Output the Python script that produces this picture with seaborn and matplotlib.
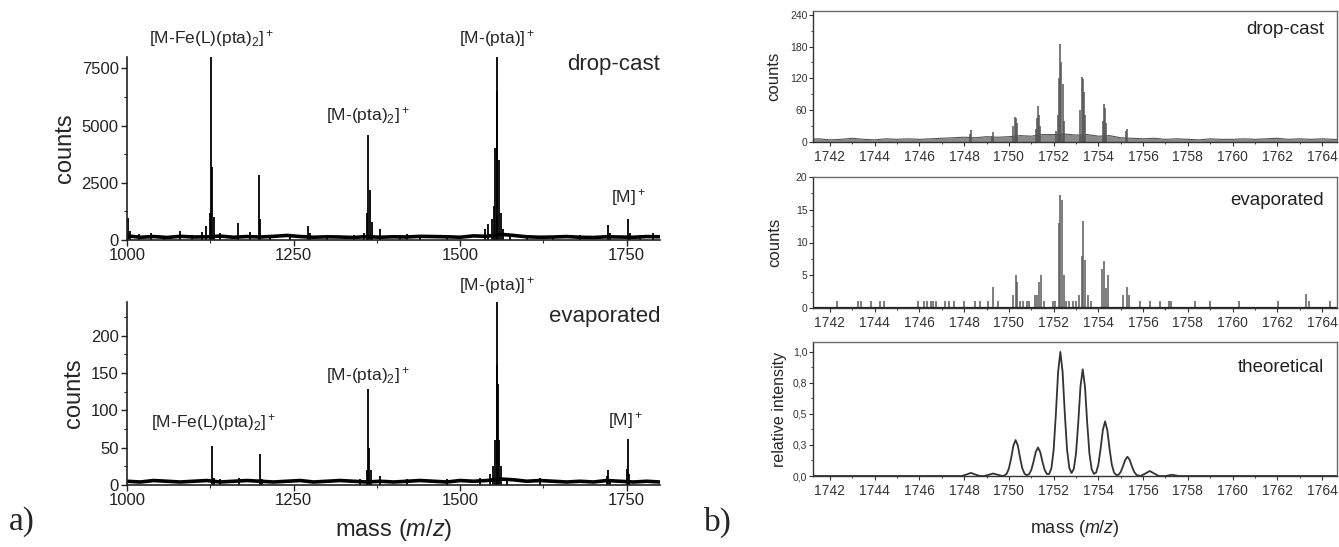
import numpy as np
import matplotlib
matplotlib.use("Agg")
import matplotlib.pyplot as plt
from matplotlib.ticker import MultipleLocator, FixedLocator
import seaborn as sns

sns.set_style("ticks")
plt.rcParams["font.family"] = ["Liberation Sans", "DejaVu Sans"]
plt.rcParams["mathtext.fontset"] = "custom"
plt.rcParams["mathtext.rm"] = "Liberation Sans"
plt.rcParams["mathtext.it"] = "Liberation Sans:italic"

# ---- panel a) wide mass range ----
wide_noise_x = np.arange(1000, 1801, 20)
dc_wide_noise = [180, 120, 150, 110, 160, 130, 140, 170, 120, 150,
                 130, 160, 200, 150, 120, 140, 130, 110, 150, 120,
                 140, 130, 160, 150, 140, 120, 180, 160, 250, 200,
                 140, 120, 130, 150, 120, 110, 140, 130, 120, 150,
                 140]
dc_wide_x = [1002, 1005, 1018, 1036, 1055, 1080, 1098, 1112, 1118, 1124,
             1126, 1128, 1131, 1140, 1166, 1184, 1198, 1200, 1215, 1245,
             1272, 1275, 1300, 1340, 1355, 1360, 1362, 1364, 1367, 1380,
             1410, 1420, 1440, 1480, 1538, 1542, 1548, 1551, 1553, 1555,
             1556, 1558, 1561, 1565, 1575, 1600, 1640, 1680, 1722, 1725,
             1752, 1755, 1770, 1790]
dc_wide_y = [950, 400, 250, 300, 150, 380, 200, 350, 600, 1200,
             8000, 3200, 1000, 300, 750, 350, 2850, 900, 200, 150,
             600, 300, 150, 200, 300, 1200, 4600, 2200, 800, 500,
             200, 250, 200, 150, 500, 700, 900, 1500, 4000, 8000,
             6500, 3500, 1200, 500, 250, 150, 150, 200, 650, 300,
             920, 300, 200, 300]

ev_wide_noise = [5, 4, 6, 5, 4, 5, 6, 4, 5, 6,
                 5, 4, 5, 6, 4, 5, 6, 5, 4, 5,
                 4, 5, 6, 5, 4, 6, 5, 6, 8, 7,
                 5, 6, 5, 4, 5, 4, 6, 5, 4, 5,
                 4]
ev_wide_x = [1127, 1130, 1140, 1168, 1199, 1202, 1350, 1360, 1362, 1363,
             1366, 1380, 1420, 1480, 1530, 1545, 1550, 1553, 1555, 1556,
             1557, 1559, 1562, 1570, 1620, 1720, 1722, 1725, 1750, 1752,
             1754]
ev_wide_y = [52, 10, 8, 10, 42, 8, 8, 20, 128, 50,
             20, 12, 8, 8, 10, 15, 25, 60, 245, 160,
             135, 60, 25, 10, 10, 12, 20, 8, 22, 62,
             15]

# ---- panel b) molecular ion region ----
zoom_noise_x = np.arange(1741.0, 1765.01, 0.5)
dc_zoom_noise = [5, 6, 4, 5, 7, 5, 4, 6, 5, 6,
                 5, 6, 7, 8, 9, 8, 10, 9, 10, 12,
                 11, 14, 14, 15, 13, 14, 11, 12, 8, 7,
                 6, 7, 5, 6, 5, 4, 6, 5, 5, 6,
                 5, 6, 7, 5, 6, 5, 6, 5, 5]
dc_zoom_x = [1748.25, 1748.3, 1749.25, 1749.3, 1750.2, 1750.25, 1750.3, 1750.35,
             1751.2, 1751.25, 1751.3, 1751.35, 1751.4, 1752.1, 1752.2, 1752.25,
             1752.3, 1752.35, 1752.4, 1752.45, 1753.2, 1753.25, 1753.3, 1753.35,
             1753.4, 1754.2, 1754.25, 1754.3, 1754.35, 1755.25, 1755.3]
dc_zoom_y = [15, 22, 12, 18, 30, 48, 46, 35,
             25, 45, 68, 50, 30, 20, 50, 120,
             185, 150, 110, 40, 60, 122, 118, 95,
             50, 40, 72, 65, 35, 20, 25]

ev_zoom_x = [1741.2, 1742.3, 1743.25, 1743.4, 1743.85, 1744.25, 1744.4, 1745.95,
             1746.2, 1746.35, 1746.5, 1746.6, 1746.75, 1747.15, 1747.3, 1747.55,
             1748.0, 1748.5, 1748.7, 1749.05, 1749.3, 1749.5, 1750.2, 1750.3,
             1750.38, 1750.48, 1750.65, 1750.8, 1750.92, 1751.15, 1751.25, 1751.35,
             1751.42, 1751.55, 1751.95, 1752.05, 1752.22, 1752.3, 1752.37, 1752.45,
             1752.55, 1752.7, 1752.85, 1753.0, 1753.15, 1753.25, 1753.32, 1753.42,
             1753.52, 1753.65, 1754.15, 1754.25, 1754.32, 1754.42, 1755.1, 1755.28,
             1755.38, 1755.85, 1756.3, 1756.75, 1757.15, 1757.25, 1758.3, 1759.0,
             1760.3, 1762.05, 1763.3, 1763.42, 1764.35]
ev_zoom_y = [1, 1, 1, 1, 1, 1, 1, 1,
             1, 1, 1, 1, 1, 1, 1, 1,
             1, 1, 1, 1, 3.2, 1, 2, 5,
             4, 1, 1, 1, 1, 2, 2, 4,
             5, 1, 1, 1, 13, 17.3, 16.5, 5,
             1, 1, 1, 1, 2, 8, 13.3, 7.3,
             2, 1, 6, 7.2, 3, 5, 2, 3.2,
             2, 1, 1, 1, 1, 1, 1, 1,
             1, 1, 2.2, 1, 1]

theo_x = [1741.2, 1747.9, 1748.1, 1748.3, 1748.5, 1748.7, 1748.9, 1749.1, 1749.3, 1749.5,
          1749.7, 1749.8, 1749.9, 1750.0, 1750.1, 1750.2, 1750.3, 1750.4, 1750.5, 1750.6,
          1750.7, 1750.8, 1750.9, 1751.0, 1751.1, 1751.2, 1751.3, 1751.4, 1751.5, 1751.6,
          1751.7, 1751.8, 1751.9, 1752.0, 1752.1, 1752.2, 1752.3, 1752.4, 1752.5, 1752.6,
          1752.7, 1752.8, 1752.9, 1753.0, 1753.1, 1753.2, 1753.3, 1753.4, 1753.5, 1753.6,
          1753.7, 1753.8, 1753.9, 1754.0, 1754.1, 1754.2, 1754.3, 1754.4, 1754.5, 1754.6,
          1754.7, 1754.8, 1754.9, 1755.0, 1755.1, 1755.2, 1755.3, 1755.4, 1755.5, 1755.6,
          1755.7, 1755.8, 1755.9, 1756.1, 1756.3, 1756.5, 1756.7, 1757.0, 1757.3, 1757.6,
          1764.7]
theo_y = [0, 0, 0.012, 0.025, 0.012, 0, 0, 0.01, 0.02, 0.01,
          0, 0.004, 0.018, 0.061, 0.145, 0.244, 0.29, 0.244, 0.145, 0.061,
          0.018, 0.007, 0.014, 0.048, 0.115, 0.193, 0.23, 0.193, 0.115, 0.048,
          0.016, 0.016, 0.063, 0.21, 0.50, 0.84, 1.0, 0.84, 0.50, 0.212,
          0.065, 0.024, 0.056, 0.181, 0.43, 0.722, 0.86, 0.722, 0.43, 0.181,
          0.055, 0.017, 0.028, 0.092, 0.22, 0.37, 0.44, 0.37, 0.22, 0.092,
          0.028, 0.008, 0.010, 0.033, 0.078, 0.130, 0.155, 0.130, 0.078, 0.033,
          0.010, 0.003, 0.001, 0.02, 0.04, 0.02, 0, 0, 0.01, 0,
          0]

theo_ticks = [0, 0.25, 0.5, 0.75, 1.0]
theo_ticklabels = ["0,0", "0,3", "0,5", "0,8", "1,0"]


def px_axes(fig, x0, y0, x1, y1):
    W, H = 1339, 547
    return fig.add_axes([x0 / W, 1 - y1 / H, (x1 - x0) / W, (y1 - y0) / H])


def style_wide(ax, ymax, ymajor, yminor):
    ax.set_xlim(1000, 1800)
    ax.set_ylim(0, ymax)
    sns.despine(ax=ax)
    for s in ("left", "bottom"):
        ax.spines[s].set_linewidth(1.2)
        ax.spines[s].set_color("#222222")
    ax.xaxis.set_major_locator(FixedLocator([1000, 1250, 1500, 1750]))
    ax.xaxis.set_minor_locator(MultipleLocator(125))
    ax.yaxis.set_major_locator(MultipleLocator(ymajor))
    ax.yaxis.set_minor_locator(MultipleLocator(yminor))
    ax.tick_params(axis="both", which="major", direction="out", length=4,
                   width=1, labelsize=12, colors="#222222", pad=2)
    ax.tick_params(axis="both", which="minor", direction="out", length=2, width=0.8)
    ax.set_ylabel("counts", fontsize=17, labelpad=4)


def draw_wide(ax, noise, px, py):
    sns.lineplot(x=wide_noise_x, y=noise, ax=ax, color="black", lw=2.6)
    ax.vlines(px, 0, py, color="black", lw=1.3)


def style_zoom(ax, ymax, ymajor, yminor):
    ax.set_xlim(1741.24, 1764.67)
    ax.set_ylim(0, ymax)
    for s in ax.spines.values():
        s.set_color("#6a6a6a")
        s.set_linewidth(1.0)
    ax.spines["left"].set_color("#333333")
    ax.spines["bottom"].set_color("#333333")
    ax.xaxis.set_major_locator(MultipleLocator(2))
    ax.xaxis.set_minor_locator(MultipleLocator(1))
    ax.yaxis.set_major_locator(MultipleLocator(ymajor))
    ax.yaxis.set_minor_locator(MultipleLocator(yminor))
    ax.tick_params(axis="x", which="major", direction="out", length=3, width=0.8,
                   labelsize=10, colors="#333333", pad=3)
    ax.tick_params(axis="y", which="major", direction="out", length=3, width=0.8,
                   labelsize=7.5, colors="#333333", pad=1)
    ax.tick_params(axis="both", which="minor", direction="out", length=1.5, width=0.6)
    ax.tick_params(top=False, right=False, which="both")


fig = plt.figure(figsize=(13.39, 5.47), dpi=100)

# a) top: drop-cast
ax1 = px_axes(fig, 127, 57, 660, 240)
draw_wide(ax1, dc_wide_noise, dc_wide_x, dc_wide_y)
style_wide(ax1, 8000, 2500, 1250)
ax1.set_xlabel("")
lab = dict(ha="center", va="center", fontsize=12.5, transform=ax1.get_xaxis_transform())
ax1.text(1127, 1.10, r"[M-Fe(L)(pta)$_2$]$^+$", **lab)
ax1.text(1555, 1.10, r"[M-(pta)]$^+$", **lab)
ax1.text(1362, 0.68, r"[M-(pta)$_2$]$^+$", **lab)
ax1.text(1752, 0.23, r"[M]$^+$", **lab)
ax1.text(1.0, 0.96, "drop-cast", ha="right", va="center", fontsize=16,
         transform=ax1.transAxes)

# a) bottom: evaporated
ax2 = px_axes(fig, 127, 302, 660, 485)
draw_wide(ax2, ev_wide_noise, ev_wide_x, ev_wide_y)
style_wide(ax2, 245, 50, 25)
ax2.set_xlabel("mass ($m/z$)", fontsize=17, labelpad=6)
lab = dict(ha="center", va="center", fontsize=12.5, transform=ax2.get_xaxis_transform())
ax2.text(1555, 1.09, r"[M-(pta)]$^+$", **lab)
ax2.text(1362, 0.60, r"[M-(pta)$_2$]$^+$", **lab)
ax2.text(1130, 0.34, r"[M-Fe(L)(pta)$_2$]$^+$", **lab)
ax2.text(1748, 0.355, r"[M]$^+$", **lab)
ax2.text(1.0, 0.92, "evaporated", ha="right", va="center", fontsize=16,
         transform=ax2.transAxes)

# b) top: drop-cast zoom
ax3 = px_axes(fig, 813, 11, 1337, 142)
ax3.fill_between(zoom_noise_x, 0, dc_zoom_noise, color="#8a8a8a", lw=0)
sns.lineplot(x=zoom_noise_x, y=dc_zoom_noise, ax=ax3, color="#555555", lw=0.8)
ax3.vlines(dc_zoom_x, 0, dc_zoom_y, color="#555555", lw=1.1)
style_zoom(ax3, 247, 60, 30)
ax3.set_ylabel("counts", fontsize=12, labelpad=6)
ax3.text(0.975, 0.86, "drop-cast", ha="right", va="center", fontsize=13.5,
         color="#222222", transform=ax3.transAxes)

# b) middle: evaporated zoom
ax4 = px_axes(fig, 813, 177, 1337, 308)
ax4.vlines(ev_zoom_x, 0, ev_zoom_y, color="#5a5a5a", lw=1.1)
ax4.axhline(0, color="#222222", lw=1.6)
style_zoom(ax4, 20, 5, 2.5)
ax4.set_ylabel("counts", fontsize=12, labelpad=10)
ax4.text(0.975, 0.82, "evaporated", ha="right", va="center", fontsize=13.5,
         color="#222222", transform=ax4.transAxes)

# b) bottom: theoretical
ax5 = px_axes(fig, 813, 342, 1337, 476)
sns.lineplot(x=theo_x, y=theo_y, ax=ax5, color="#333333", lw=1.3)
style_zoom(ax5, 1.08, 0.25, 0.125)
ax5.yaxis.set_major_locator(FixedLocator(theo_ticks))
ax5.set_yticklabels(theo_ticklabels)
ax5.set_ylabel("relative intensity", fontsize=11.5, labelpad=4)
ax5.set_xlabel("mass ($m/z$)", fontsize=13, labelpad=14)
ax5.text(0.975, 0.81, "theoretical", ha="right", va="center", fontsize=13.5,
         color="#222222", transform=ax5.transAxes)

fig.text(22 / 1339, 1 - 522 / 547, "a)", fontsize=24, family="Liberation Serif",
         ha="center", va="center")
fig.text(718 / 1339, 1 - 522 / 547, "b)", fontsize=24, family="Liberation Serif",
         ha="center", va="center")

fig.savefig("out.png", dpi=100)
